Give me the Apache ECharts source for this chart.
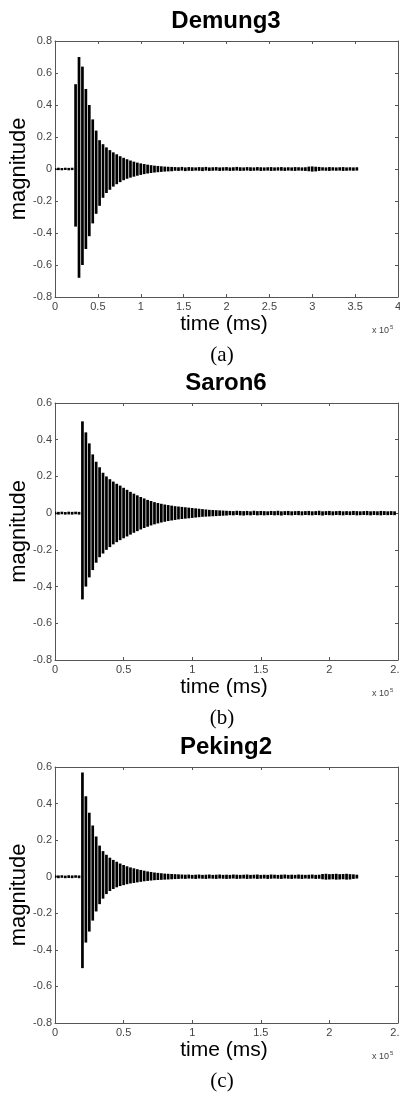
<!DOCTYPE html>
<html>
<head>
<meta charset="utf-8">
<script src="https://cdn.jsdelivr.net/npm/echarts@6/dist/echarts.min.js"></script>
<style>
  html, body { margin: 0; padding: 0; background: #fff; }
  #main { width: 400px; height: 1095px; }
</style>
</head>
<body>
<div id="main"></div>
<script>
// time in units of 10^5 ms, magnitude = upper / lower envelope of each stripe

var demungTime = [0,0.04,0.08,0.12,0.16,0.2,0.24,0.28,0.32,0.36,0.4,0.44,0.48,0.52,0.56,0.6,0.64,0.68,0.72,0.76,0.8,0.84,0.88,0.92,0.96,1,1.04,1.08,1.12,1.16,1.2,1.24,1.28,1.32,1.36,1.4,1.44,1.48,1.52,1.56,1.6,1.64,1.68,1.72,1.76,1.8,1.84,1.88,1.92,1.96,2,2.04,2.08,2.12,2.16,2.2,2.24,2.28,2.32,2.36,2.4,2.44,2.48,2.52,2.56,2.6,2.64,2.68,2.72,2.76,2.8,2.84,2.88,2.92,2.96,3,3.04,3.08,3.12,3.16,3.2,3.24,3.28,3.32,3.36,3.4,3.44,3.48,3.52];
var demungUpper = [0.007,0.008,0.006,0.008,0.007,0.008,
  0.53,0.70,0.64,0.50,0.40,0.31,0.24,0.18,0.155,0.135,0.118,0.104,0.092,0.08,0.07,0.061,0.053,0.046,0.04,0.035,0.031,0.027,0.024,0.021,0.019,0.017,0.015,0.014,0.013,
  0.012,0.011,0.013,0.010,0.012,0.011,0.010,0.012,0.011,0.013,
  0.010,0.011,0.012,0.010,0.011,0.012,0.010,0.011,0.013,0.011,
  0.010,0.012,0.011,0.010,0.012,0.011,0.010,0.011,0.012,0.010,
  0.011,0.012,0.010,0.011,0.010,0.012,0.011,0.010,0.011,
  0.015,0.016,0.014,0.013,
  0.011,0.010,0.012,0.011,0.010,0.011,0.012,0.010,0.011,0.010,0.011];
var demungLower = [-0.006,-0.007,-0.008,-0.006,-0.008,-0.007,
  -0.36,-0.68,-0.60,-0.50,-0.42,-0.34,-0.28,-0.23,-0.18,-0.15,-0.13,-0.11,-0.095,-0.082,-0.07,-0.061,-0.054,-0.048,-0.042,-0.037,-0.032,-0.028,-0.025,-0.022,-0.02,-0.018,-0.016,-0.015,-0.014,
  -0.011,-0.012,-0.010,-0.013,-0.011,-0.012,-0.010,-0.011,-0.013,-0.010,
  -0.012,-0.011,-0.010,-0.012,-0.011,-0.010,-0.012,-0.011,-0.010,-0.012,
  -0.011,-0.010,-0.012,-0.011,-0.010,-0.012,-0.011,-0.010,-0.012,-0.011,
  -0.010,-0.011,-0.012,-0.010,-0.011,-0.012,-0.010,-0.011,-0.012,
  -0.014,-0.016,-0.015,-0.012,
  -0.010,-0.011,-0.012,-0.010,-0.011,-0.010,-0.012,-0.011,-0.010,-0.011,-0.010];

var saronTime = [0,0.025,0.05,0.075,0.1,0.125,0.15,0.175,0.2,0.225,0.25,0.275,0.3,0.325,0.35,0.375,0.4,0.425,0.45,0.475,0.5,0.525,0.55,0.575,0.6,0.625,0.65,0.675,0.7,0.725,0.75,0.775,0.8,0.825,0.85,0.875,0.9,0.925,0.95,0.975,1,1.025,1.05,1.075,1.1,1.125,1.15,1.175,1.2,1.225,1.25,1.275,1.3,1.325,1.35,1.375,1.4,1.425,1.45,1.475,1.5,1.525,1.55,1.575,1.6,1.625,1.65,1.675,1.7,1.725,1.75,1.775,1.8,1.825,1.85,1.875,1.9,1.925,1.95,1.975,2,2.025,2.05,2.075,2.1,2.125,2.15,2.175,2.2,2.225,2.25,2.275,2.3,2.325,2.35,2.375,2.4,2.425,2.45,2.475];
var saronUpper = [0.008,0.007,0.008,0.006,0.008,0.007,0.008,0.007,
  0.50,0.44,0.38,0.32,0.28,0.25,0.22,0.20,0.185,0.172,0.16,0.15,0.138,0.127,0.116,0.106,0.097,0.088,0.08,0.072,0.066,0.06,0.055,0.051,0.047,0.044,0.041,0.038,0.036,0.034,0.032,0.03,0.028,0.026,0.024,0.022,0.02,0.018,0.017,0.016,0.015,0.014,0.013,
  0.012,0.011,0.013,0.012,0.011,0.012,0.010,0.013,0.011,0.012,
  0.011,0.010,0.012,0.011,0.013,0.010,0.011,0.012,0.010,0.011,
  0.012,0.010,0.011,0.012,0.010,0.011,0.013,0.010,0.011,0.012,
  0.010,0.011,0.012,0.010,0.011,0.010,0.012,0.011,0.010,0.011,
  0.012,0.010,0.011,0.010,0.012,0.011,0.010,0.011,0.010];
var saronLower = [-0.007,-0.008,-0.006,-0.008,-0.007,-0.008,-0.006,-0.008,
  -0.47,-0.40,-0.35,-0.31,-0.27,-0.24,-0.22,-0.20,-0.185,-0.17,-0.158,-0.147,-0.137,-0.127,-0.117,-0.107,-0.098,-0.089,-0.081,-0.074,-0.067,-0.061,-0.056,-0.051,-0.047,-0.043,-0.04,-0.037,-0.034,-0.032,-0.03,-0.028,-0.026,-0.024,-0.022,-0.02,-0.019,-0.018,-0.017,-0.016,-0.015,-0.014,-0.013,
  -0.011,-0.012,-0.010,-0.012,-0.013,-0.011,-0.012,-0.010,-0.012,-0.011,
  -0.012,-0.011,-0.010,-0.012,-0.011,-0.013,-0.010,-0.011,-0.012,-0.010,
  -0.011,-0.012,-0.010,-0.011,-0.012,-0.010,-0.011,-0.013,-0.010,-0.011,
  -0.012,-0.010,-0.011,-0.012,-0.010,-0.011,-0.010,-0.012,-0.011,-0.010,
  -0.011,-0.012,-0.010,-0.011,-0.012,-0.010,-0.011,-0.010,-0.011];

var pekingTime = [0,0.025,0.05,0.075,0.1,0.125,0.15,0.175,0.2,0.225,0.25,0.275,0.3,0.325,0.35,0.375,0.4,0.425,0.45,0.475,0.5,0.525,0.55,0.575,0.6,0.625,0.65,0.675,0.7,0.725,0.75,0.775,0.8,0.825,0.85,0.875,0.9,0.925,0.95,0.975,1,1.025,1.05,1.075,1.1,1.125,1.15,1.175,1.2,1.225,1.25,1.275,1.3,1.325,1.35,1.375,1.4,1.425,1.45,1.475,1.5,1.525,1.55,1.575,1.6,1.625,1.65,1.675,1.7,1.725,1.75,1.775,1.8,1.825,1.85,1.875,1.9,1.925,1.95,1.975,2,2.025,2.05,2.075,2.1,2.125,2.15,2.175,2.2];
var pekingUpper = [0.008,0.007,0.008,0.006,0.008,0.007,0.008,0.007,
  0.57,0.44,0.35,0.28,0.22,0.17,0.14,0.12,0.104,0.092,0.082,0.072,0.064,0.057,0.051,0.046,0.041,0.037,0.033,0.029,0.026,0.023,0.021,0.019,0.017,0.016,0.015,0.014,0.013,
  0.012,0.011,0.012,0.010,0.011,0.012,0.010,0.011,0.012,0.010,
  0.011,0.012,0.010,0.011,0.010,0.012,0.011,0.010,0.011,0.012,
  0.010,0.011,0.012,0.010,0.011,0.010,0.012,0.011,0.010,0.011,
  0.012,0.010,0.011,0.010,0.012,0.011,0.010,0.011,0.012,0.010,0.011,
  0.015,0.016,0.014,0.015,0.016,0.014,0.015,0.016,0.014,0.013,
  0.011];
var pekingLower = [-0.007,-0.008,-0.006,-0.008,-0.007,-0.008,-0.006,-0.008,
  -0.50,-0.36,-0.30,-0.24,-0.19,-0.15,-0.12,-0.095,-0.078,-0.067,-0.058,-0.051,-0.046,-0.041,-0.037,-0.034,-0.031,-0.028,-0.025,-0.023,-0.021,-0.019,-0.018,-0.017,-0.016,-0.015,-0.014,-0.013,-0.012,
  -0.011,-0.012,-0.010,-0.011,-0.012,-0.010,-0.011,-0.012,-0.010,-0.011,
  -0.012,-0.010,-0.011,-0.012,-0.011,-0.010,-0.012,-0.011,-0.010,-0.012,
  -0.011,-0.010,-0.012,-0.011,-0.010,-0.012,-0.011,-0.010,-0.011,-0.012,
  -0.010,-0.011,-0.012,-0.010,-0.011,-0.012,-0.010,-0.011,-0.010,-0.012,-0.011,
  -0.014,-0.016,-0.015,-0.014,-0.016,-0.015,-0.014,-0.016,-0.015,-0.012,
  -0.010];

var panels = [
  { title: 'Demung3', tag: '(a)', t: demungTime, hi: demungUpper, lo: demungLower, top: 41, height: 256, xMax: 4, yMax: 0.8 },
  { title: 'Saron6', tag: '(b)', t: saronTime, hi: saronUpper, lo: saronLower, top: 403, height: 257, xMax: 2.5, yMax: 0.6 },
  { title: 'Peking2', tag: '(c)', t: pekingTime, hi: pekingUpper, lo: pekingLower, top: 767, height: 256, xMax: 2.5, yMax: 0.6 }
];

var axisColor = '#555';
var labelColor = '#444';
var sans = '"Liberation Sans", Arial, sans-serif';

var grids = [], xAxes = [], yAxes = [], series = [], graphics = [];

panels.forEach(function (p, i) {
  grids.push({ left: 55, top: p.top, width: 343, height: p.height, containLabel: false, outerBoundsMode: 'none' });

  var n = Math.min(p.t.length, p.hi.length, p.lo.length);
  var data = [];
  for (var k = 0; k < n; k++) data.push([p.t[k], p.lo[k], p.hi[k]]);

  var xBase = {
    gridIndex: i, type: 'value', min: 0, max: p.xMax, interval: 0.5,
    splitLine: { show: false },
    axisLine: { show: true, onZero: false, lineStyle: { color: axisColor, width: 1 } },
    axisTick: { show: true, inside: true, length: 3, lineStyle: { color: axisColor } }
  };
  xAxes.push(Object.assign({}, xBase, {
    position: 'bottom',
    axisLabel: { show: true, fontSize: 11, color: labelColor, fontFamily: sans, margin: 4, showMinLabel: true, showMaxLabel: true, hideOverlap: false }
  }));
  xAxes.push(Object.assign({}, xBase, { position: 'top', axisLabel: { show: false } }));

  var yBase = {
    gridIndex: i, type: 'value', min: -0.8, max: p.yMax, interval: 0.2,
    splitLine: { show: false },
    axisLine: { show: true, onZero: false, lineStyle: { color: axisColor, width: 1 } },
    axisTick: { show: true, inside: true, length: 3, lineStyle: { color: axisColor } }
  };
  yAxes.push(Object.assign({}, yBase, {
    position: 'left',
    axisLabel: { show: true, fontSize: 11, color: labelColor, fontFamily: sans, margin: 3, showMinLabel: true, showMaxLabel: true }
  }));
  yAxes.push(Object.assign({}, yBase, { position: 'right', axisLabel: { show: false } }));

  series.push({
    type: 'custom',
    xAxisIndex: i * 2,
    yAxisIndex: i * 2,
    clip: true,
    silent: true,
    encode: { x: 0, y: [1, 2] },
    data: data,
    renderItem: function (params, api) {
      var a = api.coord([api.value(0), api.value(2)]);
      var b = api.coord([api.value(0), api.value(1)]);
      return {
        type: 'line',
        shape: { x1: a[0], y1: a[1], x2: b[0], y2: b[1] },
        style: { stroke: '#000', lineWidth: 2.7 }
      };
    }
  });

  var mid = p.top + p.height / 2;
  var bottom = p.top + p.height;
  graphics.push(
    { type: 'text', x: 226, y: p.top - 20, style: { text: p.title, font: 'bold 24px ' + sans, fill: '#000', align: 'center', verticalAlign: 'middle' } },
    { type: 'text', x: 19, y: mid, rotation: Math.PI / 2, style: { text: 'magnitude', font: '22px ' + sans, fill: '#000', align: 'center', verticalAlign: 'middle' } },
    { type: 'text', x: 224, y: bottom + 27, style: { text: 'time (ms)', font: '21px ' + sans, fill: '#000', align: 'center', verticalAlign: 'middle' } },
    { type: 'text', x: 372, y: bottom + 34, style: { text: 'x 10', font: '9px ' + sans, fill: labelColor, align: 'left', verticalAlign: 'middle' } },
    { type: 'text', x: 390, y: bottom + 30, style: { text: '5', font: '6px ' + sans, fill: labelColor, align: 'left', verticalAlign: 'middle' } },
    { type: 'text', x: 222, y: bottom + 58, style: { text: p.tag, font: '21px "Liberation Serif", "Times New Roman", serif', fill: '#000', align: 'center', verticalAlign: 'middle' } }
  );
});

var chart = echarts.init(document.getElementById('main'), null, { renderer: 'canvas' });
chart.setOption({
  animation: false,
  backgroundColor: '#fff',
  grid: grids,
  xAxis: xAxes,
  yAxis: yAxes,
  series: series,
  graphic: graphics
});

window.addEventListener('resize', function () {
  chart.resize();
});
</script>
</body>
</html>
